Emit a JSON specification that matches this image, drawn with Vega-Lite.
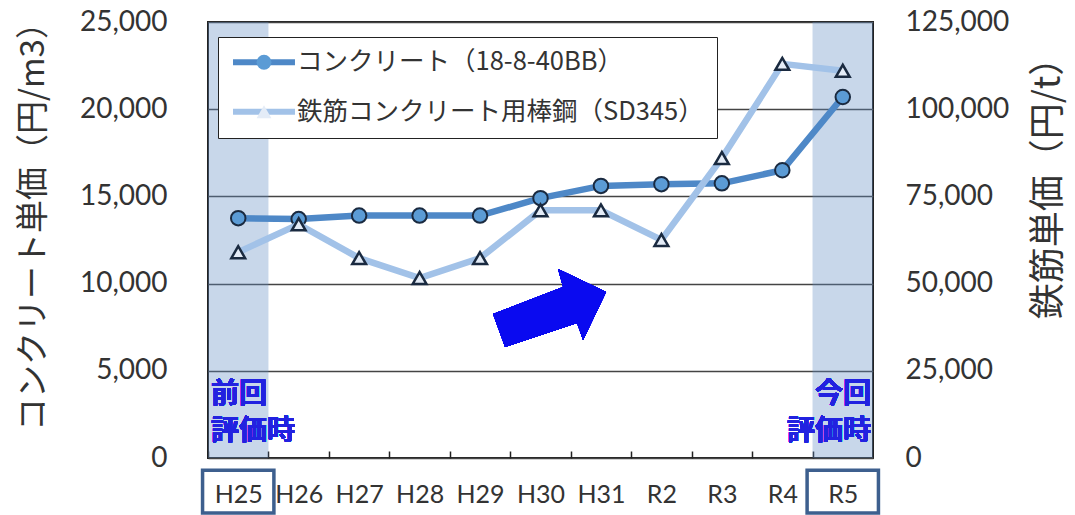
{
  "$schema": "https://vega.github.io/schema/vega-lite/v6.json",
  "width": 665,
  "height": 436,
  "autosize": {"type": "none"},
  "padding": {"left": 208, "top": 22, "right": 202, "bottom": 57},
  "background": "white",
  "config": {
    "view": {"stroke": "#222222", "strokeWidth": 2},
    "font": "Lato",
    "legend": {"symbolStrokeColor": "#1a2a40"}
  },
  "data": {"values": [
    {"year": "H25", "series": "コンクリート（18-8-40BB）", "marker": "コンクリート（18-8-40BB）", "value": 13750},
    {"year": "H26", "series": "コンクリート（18-8-40BB）", "marker": "コンクリート（18-8-40BB）", "value": 13700},
    {"year": "H27", "series": "コンクリート（18-8-40BB）", "marker": "コンクリート（18-8-40BB）", "value": 13900},
    {"year": "H28", "series": "コンクリート（18-8-40BB）", "marker": "コンクリート（18-8-40BB）", "value": 13900},
    {"year": "H29", "series": "コンクリート（18-8-40BB）", "marker": "コンクリート（18-8-40BB）", "value": 13900},
    {"year": "H30", "series": "コンクリート（18-8-40BB）", "marker": "コンクリート（18-8-40BB）", "value": 14900},
    {"year": "H31", "series": "コンクリート（18-8-40BB）", "marker": "コンクリート（18-8-40BB）", "value": 15600},
    {"year": "R2", "series": "コンクリート（18-8-40BB）", "marker": "コンクリート（18-8-40BB）", "value": 15700},
    {"year": "R3", "series": "コンクリート（18-8-40BB）", "marker": "コンクリート（18-8-40BB）", "value": 15750},
    {"year": "R4", "series": "コンクリート（18-8-40BB）", "marker": "コンクリート（18-8-40BB）", "value": 16500},
    {"year": "R5", "series": "コンクリート（18-8-40BB）", "marker": "コンクリート（18-8-40BB）", "value": 20700},
    {"year": "H25", "series": "鉄筋コンクリート用棒鋼（SD345）", "marker": "鉄筋コンクリート用棒鋼（SD345）", "value": 59000},
    {"year": "H26", "series": "鉄筋コンクリート用棒鋼（SD345）", "marker": "鉄筋コンクリート用棒鋼（SD345）", "value": 67000},
    {"year": "H27", "series": "鉄筋コンクリート用棒鋼（SD345）", "marker": "鉄筋コンクリート用棒鋼（SD345）", "value": 57300},
    {"year": "H28", "series": "鉄筋コンクリート用棒鋼（SD345）", "marker": "鉄筋コンクリート用棒鋼（SD345）", "value": 51600},
    {"year": "H29", "series": "鉄筋コンクリート用棒鋼（SD345）", "marker": "鉄筋コンクリート用棒鋼（SD345）", "value": 57300},
    {"year": "H30", "series": "鉄筋コンクリート用棒鋼（SD345）", "marker": "鉄筋コンクリート用棒鋼（SD345）", "value": 71000},
    {"year": "H31", "series": "鉄筋コンクリート用棒鋼（SD345）", "marker": "鉄筋コンクリート用棒鋼（SD345）", "value": 71000},
    {"year": "R2", "series": "鉄筋コンクリート用棒鋼（SD345）", "marker": "鉄筋コンクリート用棒鋼（SD345）", "value": 62500},
    {"year": "R3", "series": "鉄筋コンクリート用棒鋼（SD345）", "marker": "鉄筋コンクリート用棒鋼（SD345）", "value": 86000},
    {"year": "R4", "series": "鉄筋コンクリート用棒鋼（SD345）", "marker": "鉄筋コンクリート用棒鋼（SD345）", "value": 113000},
    {"year": "R5", "series": "鉄筋コンクリート用棒鋼（SD345）", "marker": "鉄筋コンクリート用棒鋼（SD345）", "value": 111000}
  ]},
  "layer": [
    {
      "layer": [
        {
          "data": {"values": [{"year": "H25"}, {"year": "R5"}]},
          "mark": {"type": "bar", "width": {"band": 1}, "fill": "#628dc3", "opacity": 0.35},
          "encoding": {
            "x": {"field": "year", "type": "nominal",
                  "scale": {"type": "band", "domain": ["H25","H26","H27","H28","H29","H30","H31","R2","R3","R4","R5"], "paddingInner": 0, "paddingOuter": 0}},
            "y": {"datum": 25000, "type": "quantitative", "scale": {"domain": [0, 25000], "nice": false}},
            "y2": {"datum": 0}
          }
        },
        {
          "data": {"values": [{"year": "H25"}, {"year": "R5"}]},
          "mark": {"type": "bar", "width": {"band": 1.18}, "fill": "transparent", "stroke": "#3d5f8e", "strokeWidth": 3.5},
          "encoding": {
            "x": {"field": "year", "type": "nominal"},
            "y": {"datum": -700, "type": "quantitative", "scale": {"domain": [0, 25000], "nice": false}},
            "y2": {"datum": -3150}
          }
        },
        {
          "transform": [{"filter": "datum.series === 'コンクリート（18-8-40BB）'"}],
          "mark": {"type": "line", "strokeWidth": 6.5},
          "encoding": {
            "x": {"field": "year", "type": "nominal", "sort": null,
                  "scale": {"type": "band", "domain": ["H25","H26","H27","H28","H29","H30","H31","R2","R3","R4","R5"], "paddingInner": 0, "paddingOuter": 0},
                  "axis": {"title": null, "labelAngle": 0, "labelAlign": "center", "labelFontSize": 25, "labelFont": "Lato", "labelColor": "#333333",
                           "tickSize": -7, "tickOffset": -30.2, "tickColor": "#222222", "tickWidth": 1.5,
                           "domain": false, "grid": false, "labelPadding": 43, "labelOffset": 30.2}},
            "y": {"field": "value", "type": "quantitative", "scale": {"domain": [0, 25000], "nice": false},
                  "axis": {"values": [0, 5000, 10000, 15000, 20000, 25000], "labelExpr": "format(datum.value, ',')", "grid": true,
                           "gridColor": "#444444", "gridWidth": 1.5, "ticks": false, "domain": false,
                           "labelFontSize": 28, "labelFont": "Lato", "labelColor": "#333333", "labelPadding": 41,
                           "title": "コンクリート単価（円/m3）", "titleFont": "Noto Sans CJK JP", "titleFontSize": 33,
                           "titleFontWeight": "normal", "titleColor": "#333333", "titleAngle": -90,
                           "titleX": -175, "titleY": 196, "titleAlign": "center", "titleBaseline": "middle"}},
            "stroke": {"field": "series", "type": "nominal",
                       "scale": {"range": ["#4e88c7", "#a2c2e8"]},
                       "legend": {"orient": "none", "legendX": 10, "legendY": 15, "title": null,
                                  "fillColor": "#ffffff", "strokeColor": "#222222", "padding": 12.5,
                                  "symbolType": "M-4,0L4,0", "symbolSize": 240, "symbolStrokeWidth": 6,
                                  "symbolOffset": 20.75, "labelOffset": 20.25, "labelFontSize": 25.5,
                                  "labelFont": "Noto Sans CJK JP", "labelColor": "#333333", "labelLimit": 0,
                                  "rowPadding": 22.5, "direction": "vertical"}}
          }
        },
        {
          "transform": [{"filter": "datum.series === 'コンクリート（18-8-40BB）'"}],
          "mark": {"type": "point", "filled": true, "stroke": "#1a2a40", "strokeWidth": 2, "size": 210, "opacity": 1},
          "encoding": {
            "x": {"field": "year", "type": "nominal"},
            "y": {"field": "value", "type": "quantitative", "scale": {"domain": [0, 25000], "nice": false}},
            "color": {"field": "marker", "type": "nominal",
                      "scale": {"range": ["#5b9bd5", "#e4ecf7"]},
                      "legend": {"orient": "none", "legendX": 10, "legendY": 15, "title": null, "padding": 12.5,
                                 "symbolSize": 220, "symbolStrokeWidth": 2.5, "symbolStrokeColor": "#1a2a40",
                                 "symbolOffset": 20.75, "labelFontSize": 25.5, "labelExpr": "''", "rowPadding": 22.5,
                                 "direction": "vertical", "symbolOpacity": 1}},
            "shape": {"field": "marker", "type": "nominal",
                      "scale": {"range": ["circle", "triangle-up"]},
                      "legend": {"orient": "none", "legendX": 10, "legendY": 15, "title": null, "padding": 12.5,
                                 "symbolSize": 220, "symbolStrokeWidth": 2.5, "symbolStrokeColor": "#1a2a40",
                                 "symbolOffset": 20.75, "labelFontSize": 25.5, "labelExpr": "''", "rowPadding": 22.5,
                                 "direction": "vertical", "symbolOpacity": 1}}
          }
        },
        {
          "mark": {"type": "point", "shape": "M-5.65,0.6L1.35,-2.1L0.85,-3.9L5.65,-1.6L3.35,3.2L2.75,1.5L-4.45,3.9Z",
                   "size": 400, "filled": true, "fill": "#0a0af0", "strokeWidth": 0, "opacity": 1},
          "encoding": {
            "x": {"datum": "H30", "bandPosition": 0.65},
            "y": {"datum": 8600, "scale": {"domain": [0, 25000], "nice": false}}
          }
        },
        {
          "mark": {"type": "text", "align": "left", "baseline": "top", "dx": 3, "fontSize": 28, "fontWeight": "bold",
                   "font": "Noto Sans CJK JP", "color": "#2222e0", "lineBreak": "\n", "lineHeight": 37},
          "encoding": {
            "x": {"datum": "H25", "bandPosition": 0},
            "y": {"datum": 4400, "scale": {"domain": [0, 25000], "nice": false}},
            "text": {"value": "前回\n評価時"}
          }
        },
        {
          "mark": {"type": "text", "align": "right", "baseline": "top", "dx": -2, "fontSize": 28, "fontWeight": "bold",
                   "font": "Noto Sans CJK JP", "color": "#2222e0", "lineBreak": "\n", "lineHeight": 37},
          "encoding": {
            "x": {"datum": "R5", "bandPosition": 1},
            "y": {"datum": 4400, "scale": {"domain": [0, 25000], "nice": false}},
            "text": {"value": "今回\n評価時"}
          }
        }
      ]
    },
    {
      "layer": [
        {
          "transform": [{"filter": "datum.series === '鉄筋コンクリート用棒鋼（SD345）'"}],
          "mark": {"type": "line", "strokeWidth": 6.5},
          "encoding": {
            "x": {"field": "year", "type": "nominal"},
            "y": {"field": "value", "type": "quantitative", "scale": {"domain": [0, 125000], "nice": false},
                  "axis": {"orient": "right", "values": [0, 25000, 50000, 75000, 100000, 125000], "labelExpr": "format(datum.value, ',')",
                           "grid": false, "ticks": false, "domain": false,
                           "labelFontSize": 28, "labelFont": "Lato", "labelColor": "#333333", "labelPadding": 32,
                           "title": "鉄筋単価（円/t）", "titleFont": "Noto Sans CJK JP", "titleFontSize": 36,
                           "titleFontWeight": "normal", "titleColor": "#333333", "titleAngle": -90,
                           "titleX": 175, "titleY": 157, "titleAlign": "center", "titleBaseline": "middle"}},
            "stroke": {"field": "series", "type": "nominal", "legend": null}
          }
        },
        {
          "transform": [{"filter": "datum.series === '鉄筋コンクリート用棒鋼（SD345）'"}],
          "mark": {"type": "point", "filled": true, "stroke": "#1a2a40", "strokeWidth": 2.5, "size": 190, "opacity": 1},
          "encoding": {
            "x": {"field": "year", "type": "nominal"},
            "y": {"field": "value", "type": "quantitative", "scale": {"domain": [0, 125000], "nice": false}},
            "color": {"field": "marker", "type": "nominal", "legend": null},
            "shape": {"field": "marker", "type": "nominal", "legend": null}
          }
        }
      ]
    }
  ],
  "resolve": {"scale": {"y": "independent"}}
}
